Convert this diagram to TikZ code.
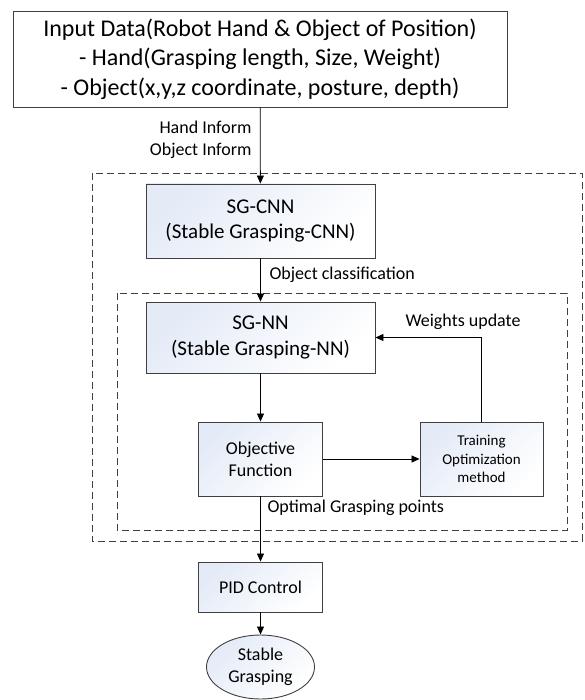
\documentclass[tikz,border=0pt]{standalone}
\usepackage{fontspec}
\setmainfont{Carlito}
\usetikzlibrary{arrows.meta, positioning, shapes.geometric}
\definecolor{sgBlue}{HTML}{E4EBF7}
\definecolor{sgLine}{HTML}{404040}

\begin{document}
\begin{tikzpicture}[x=1pt,y=-1pt,
  box/.style={draw=sgLine,line width=0.9pt,top color=sgBlue,bottom color=white,shading angle=45,align=center,inner sep=0pt},
  flow/.style={-{Triangle[length=8pt,width=7pt]},line width=0.8pt},
  group/.style={draw=black!75,dash pattern=on 7pt off 4pt,line width=0.7pt},
  lbl/.style={font=\fontsize{18}{22}\selectfont}]
\useasboundingbox (0,0) rectangle (584,700);
% dashed groups
\draw[group] (92,173) rectangle (582,541);
\draw[group] (117,293) rectangle (567,530);
% blocks
\node[draw=sgLine,line width=0.9pt,fill=white,minimum width=494pt,minimum height=96pt,align=center,inner sep=0pt,
  font=\fontsize{24}{29.5}\selectfont] (input) at (260,59)
  {Input Data(Robot Hand \& Object of Position)\\- Hand(Grasping length, Size, Weight)\\- Object(x,y,z coordinate, posture, depth)};
\node[box,minimum width=229pt,minimum height=74pt,font=\fontsize{21}{25.5}\selectfont] (sgcnn) at (260.5,221) {SG-CNN\\(Stable Grasping-CNN)};
\node[box,minimum width=229pt,minimum height=71pt,font=\fontsize{21}{25.5}\selectfont] (sgnn) at (260.5,337.5) {SG-NN\\(Stable Grasping-NN)};
\node[box,minimum width=124pt,minimum height=74pt,font=\fontsize{18}{22}\selectfont] (objfun) at (260.5,459) {Objective\\Function};
\node[box,minimum width=123pt,minimum height=74pt,font=\fontsize{15}{18.3}\selectfont] (train) at (481.5,459) {Training\\Optimization\\method};
\node[box,minimum width=124pt,minimum height=50pt,font=\fontsize{18}{22}\selectfont] (pid) at (260.5,587) {PID Control};
\node[box,ellipse,minimum width=108pt,minimum height=64pt,font=\fontsize{18}{22}\selectfont] (goal) at (260.5,667) {Stable\\Grasping};
% labels
\node[lbl,anchor=east,align=right] (inform) at (255,140) {Hand Inform\\Object Inform};
\node[lbl,anchor=west] (classlbl) at (266,275) {Object classification};
\node[lbl] (updlbl) at (463,322) {Weights update};
\node[lbl,anchor=west] (optlbl) at (264,508) {Optimal Grasping points};
% connectors
\draw[flow] (input) -- (sgcnn);
\draw[flow] (sgcnn) -- (sgnn);
\draw[flow] (sgnn) -- (objfun);
\draw[flow] (objfun) -- (train);
\draw[flow] (train.north) |- (sgnn.east);
\draw[flow] (objfun) -- (pid);
\draw[flow] (pid) -- (goal);
\end{tikzpicture}
\end{document}
